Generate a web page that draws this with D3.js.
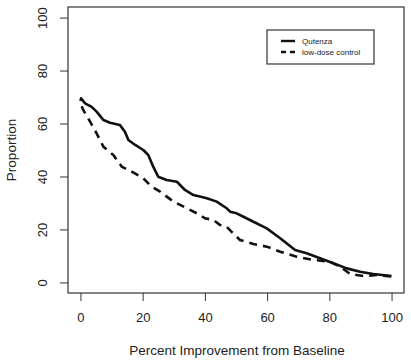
<!DOCTYPE html>
<html>
<head>
<meta charset="utf-8">
<script src="https://cdn.jsdelivr.net/npm/d3@7"></script>
<style>
  body { margin: 0; background: #fff; }
  svg { display: block; font-family: "Liberation Sans", Arial, sans-serif; }
  .axis text { font-size: 13px; fill: #222; }
  .axis line { stroke: #333; }
</style>
</head>
<body>
<div id="chart"></div>
<script>
// percent improvement (x) and proportion of patients (y)
var qutenzaX = [0, 0.2, 1.5, 3.6, 5.2, 7.4, 9.5, 12.7, 14.3, 15.4, 17.6, 20.2, 21.8, 23.4, 25.0, 27.7, 31.0, 33.6, 36.3, 38.4, 40.6, 43.8, 47.0, 48.1, 50.2, 52.4, 55.6, 59.9, 64.2, 69.0, 72.7, 77.0, 81.3, 85.6, 89.9, 94.1, 100];
var qutenzaY = [68.5, 69.5, 67.6, 66.3, 64.5, 61.3, 60.3, 59.4, 56.9, 53.8, 51.9, 50.0, 48.1, 43.7, 39.9, 38.7, 38.0, 34.9, 33.0, 32.4, 31.8, 30.5, 28.0, 26.7, 26.1, 24.8, 22.9, 20.4, 16.7, 12.2, 11.0, 9.1, 7.2, 5.3, 4.0, 3.2, 2.4];
var controlX = [0.4, 0.9, 3.1, 5.2, 7.4, 10.6, 13.3, 16.5, 20.2, 22.9, 25.6, 29.9, 34.2, 38.4, 40.0, 42.7, 44.9, 47.0, 48.6, 51.3, 55.6, 59.9, 64.2, 69.5, 74.9, 80.2, 83.5, 86.7, 91.0, 95.3, 100];
var controlY = [66.5, 65.1, 60.7, 56.3, 51.2, 48.1, 43.7, 41.8, 39.3, 36.1, 34.3, 30.5, 28.0, 25.5, 24.2, 23.6, 21.7, 21.0, 19.1, 16.0, 14.5, 13.5, 11.6, 9.7, 8.5, 7.8, 5.9, 3.2, 2.4, 2.8, 2.2];
var xTicks = [0, 20, 40, 60, 80, 100];
var yTicks = [0, 20, 40, 60, 80, 100];
var seriesNames = ["Qutenza", "low-dose control"];

var margin = {top: 7, right: 7, bottom: 71, left: 68},
    width = 411 - margin.left - margin.right,
    height = 364 - margin.top - margin.bottom;

var svg = d3.select("#chart").append("svg")
    .attr("width", 411)
    .attr("height", 364);

var g = svg.append("g")
    .attr("transform", "translate(" + margin.left + "," + margin.top + ")");

// R style 4% padding on both ends
var x = d3.scaleLinear().domain([-4, 104]).range([0, width]);
var y = d3.scaleLinear().domain([-4, 104]).range([height, 0]);

// x axis
var xAxis = g.append("g")
    .attr("class", "axis")
    .attr("transform", "translate(0," + height + ")")
    .call(d3.axisBottom(x).tickValues(xTicks).tickSize(8).tickSizeOuter(0).tickPadding(12));
xAxis.select(".domain").remove();

// y axis, labels rotated like R
var yAxis = g.append("g")
    .attr("class", "axis")
    .call(d3.axisLeft(y).tickValues(yTicks).tickSize(8).tickSizeOuter(0));
yAxis.select(".domain").remove();
yAxis.selectAll("text")
    .attr("x", 0)
    .attr("y", 0)
    .attr("dy", "0.35em")
    .attr("text-anchor", "middle")
    .attr("transform", "translate(-26,0) rotate(-90)");

// box
g.append("rect")
    .attr("width", width)
    .attr("height", height)
    .attr("fill", "none")
    .attr("stroke", "#333")
    .attr("stroke-width", 1.2);

var line = d3.line()
    .x(function(d) { return x(d[0]); })
    .y(function(d) { return y(d[1]); });

g.append("path")
    .datum(d3.zip(qutenzaX, qutenzaY))
    .attr("d", line)
    .attr("fill", "none")
    .attr("stroke", "#111")
    .attr("stroke-width", 2.6)
    .attr("stroke-linejoin", "round");

g.append("path")
    .datum(d3.zip(controlX, controlY))
    .attr("d", line)
    .attr("fill", "none")
    .attr("stroke", "#111")
    .attr("stroke-width", 2.6)
    .attr("stroke-dasharray", "8,6");

// axis titles
svg.append("text")
    .attr("x", margin.left + width / 2 + 1)
    .attr("y", 355)
    .attr("text-anchor", "middle")
    .style("font-size", "13.5px")
    .style("fill", "#222")
    .text("Percent Improvement from Baseline");

svg.append("text")
    .attr("transform", "translate(16," + (margin.top + height / 2) + ") rotate(-90)")
    .attr("text-anchor", "middle")
    .style("font-size", "13.5px")
    .style("fill", "#222")
    .text("Proportion");

// legend
var legend = svg.append("g").attr("transform", "translate(267,30)");
legend.append("rect")
    .attr("width", 107)
    .attr("height", 34)
    .attr("fill", "#fff")
    .attr("stroke", "#333")
    .attr("stroke-width", 1.2);

seriesNames.forEach(function(name, i) {
    var ly = 11 + i * 11;
    legend.append("line")
        .attr("x1", 14).attr("x2", 28)
        .attr("y1", ly).attr("y2", ly)
        .attr("stroke", "#111")
        .attr("stroke-width", 2.4)
        .attr("stroke-dasharray", i === 1 ? "5,4" : null);
    legend.append("text")
        .attr("x", 35)
        .attr("y", ly)
        .attr("dy", "0.35em")
        .style("font-size", "8px")
        .style("fill", "#222")
        .text(name);
});
</script>
</body>
</html>
